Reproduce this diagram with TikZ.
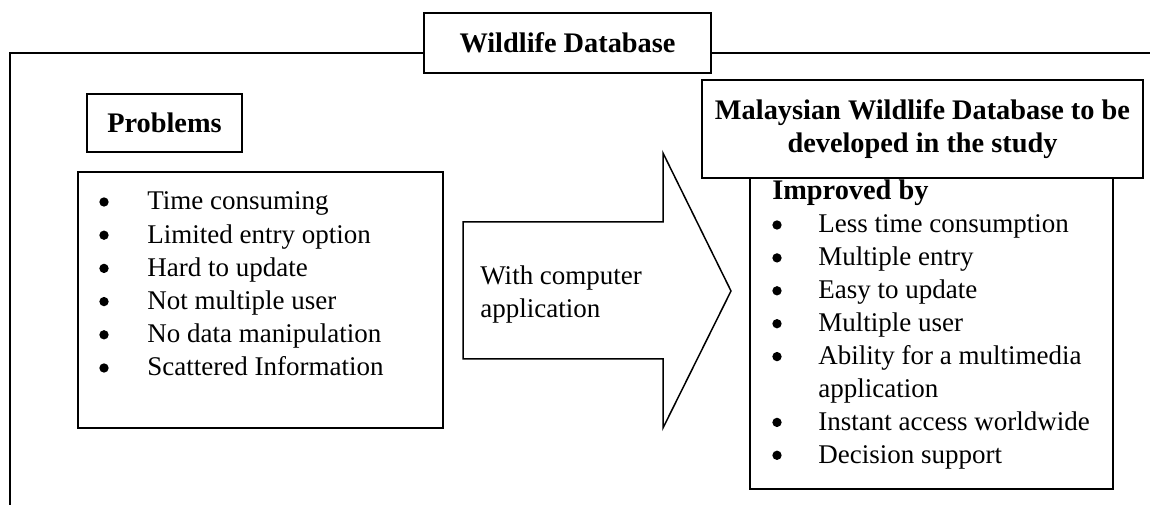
\documentclass[tikz,border=0pt]{standalone}
\usepackage{fontspec}
\setmainfont{Liberation Serif}
\usetikzlibrary{positioning}

\tikzset{
  box/.style={draw,line width=0.9pt,fill=white,inner sep=0pt},
  txt/.style={anchor=base west,inner sep=0pt,font=\fontsize{16.2}{19.8}\selectfont},
  dot/.style={circle,fill,inner sep=0pt,minimum size=5.6pt},
  head/.style={font=\fontsize{17}{19.8}\selectfont\bfseries,align=center},
}

\begin{document}
\begin{tikzpicture}[x=0.6pt,y=-0.6pt]
\useasboundingbox (0,0) rectangle (1150,508);

\node[box,head,minimum width=172.2pt,minimum height=36pt] (title) at (567.5,43) {Wildlife Database};
\coordinate (tl) at (10,53);
\coordinate (bl) at (10,505);
\coordinate (tr) at (1150,53);
\draw[line width=0.9pt] (title.west |- tl) -- (tl) -- (bl);
\draw[line width=0.9pt] (title.east |- tr) -- (tr);

\node[box,head,minimum width=93pt,minimum height=34.8pt] (probs) at (164.5,123) {Problems};
\draw[line width=0.9pt] (78,172) rectangle (443,428);
\foreach \t [count=\i] in {Time consuming,Limited entry option,Hard to update,Not multiple user,No data manipulation,Scattered Information}
{
  \node[dot] (pd\i) at (104,{202+33.2*(\i-1)}) {};
  \node[txt] (pb\i) at (147,{210+33.2*(\i-1)}) {\t};
}

\draw[line width=0.9pt] (463,222) -- (663,222) -- (663,153) -- (731,291) -- (663,428) -- (663,359) -- (463,359) -- cycle;
\node[txt] (with) at (480,285) {With computer};
\node[txt] (app) at (480,318) {application};

\draw[line width=0.9pt] (750,177) rectangle (1113,489);
\node[box,head,minimum width=264.6pt,minimum height=58.8pt] (study) at (922.5,129) {Malaysian Wildlife Database to be\\developed in the study};
\node[txt,font=\fontsize{17}{19.8}\selectfont\bfseries] (impr) at (772,200) {Improved by};
\foreach \i/\t in {1/Less time consumption,2/Multiple entry,3/Easy to update,4/Multiple user,5/Ability for a multimedia,7/Instant access worldwide,8/Decision support}
{
  \node[dot] (id\i) at (777,{225+32.9*(\i-1)}) {};
  \node[txt] (ib\i) at (818,{233+32.9*(\i-1)}) {\t};
}
\node[txt] (ib6) at (818,{233+32.9*5}) {application};

\end{tikzpicture}
\end{document}
